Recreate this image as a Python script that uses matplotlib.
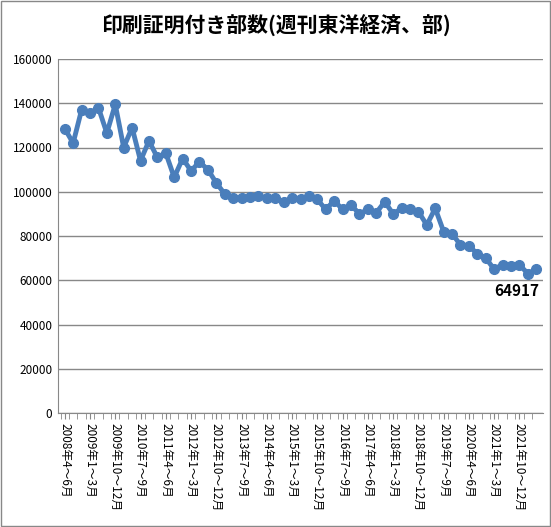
import matplotlib.pyplot as plt
import numpy as np

plt.rcParams['font.family'] = ['Noto Sans CJK JP', 'DejaVu Sans']

# quarterly copies, 2008 Apr-Jun .. 2022 Apr-Jun
copies = [128500, 122000, 137000, 135500, 138000, 126500, 139500, 120000, 129000, 114000,
          123000, 115500, 117500, 106500, 115000, 109500, 113500, 110000, 104000, 99000,
          97000, 97000, 97500, 98000, 97000, 97000, 95500, 97000, 96500, 98000,
          96500, 92000, 96000, 92000, 94000, 90000, 92000, 90500, 95500, 90000,
          92500, 92000, 91000, 85000, 92500, 82000, 81000, 76000, 75500, 72000,
          70000, 65000, 67000, 66500, 67000, 63000, 64917]
quarter_names = ['1～3月', '4～6月', '7～9月', '10～12月']
labels = []
for i in range(len(copies)):
    q = (1 + i) % 4
    year = 2008 + (1 + i) // 4
    labels.append(f'{year}年{quarter_names[q]}')

fig = plt.figure(figsize=(5.51, 5.27), dpi=100)
ax = fig.add_axes([58/551, 1 - 413/527, 485/551, 354/527])
x = np.arange(len(copies))
ax.plot(x, copies, color='#4a7ebb', lw=3.5, marker='o', ms=7)
ax.set_xlim(-0.8, len(copies) - 0.2)
ax.set_ylim(0, 160000)
ax.set_yticks(range(0, 160001, 20000))
ax.tick_params(axis='y', labelsize=8.5, length=0, pad=4)
ax.grid(axis='y', color='#888888', lw=1)
ax.set_axisbelow(True)
ax.set_xticks(x - 0.5, minor=True)
ax.set_xticks(x[::3])
ax.set_xticklabels(labels[::3], rotation=-90, fontsize=8.5, va='top', ha='center')
ax.tick_params(axis='x', which='both', length=4, color='#888888')
for s in ['top', 'right']:
    ax.spines[s].set_visible(False)
for s in ['left', 'bottom']:
    ax.spines[s].set_color('#888888')
ax.annotate(f'{copies[-1]}', (x[-1], copies[-1]), xytext=(-14, -10), textcoords='offset points',
            ha='center', va='top', fontsize=11, fontweight='bold')
fig.text(0.5, 0.95, '印刷証明付き部数(週刊東洋経済、部)', ha='center', va='center',
         fontsize=15, fontweight='bold')
fig.patches.append(plt.Rectangle((0.001, 0.001), 0.997, 0.997, transform=fig.transFigure,
                                 fill=False, edgecolor='#888888', lw=1))
fig.savefig('out.png')
